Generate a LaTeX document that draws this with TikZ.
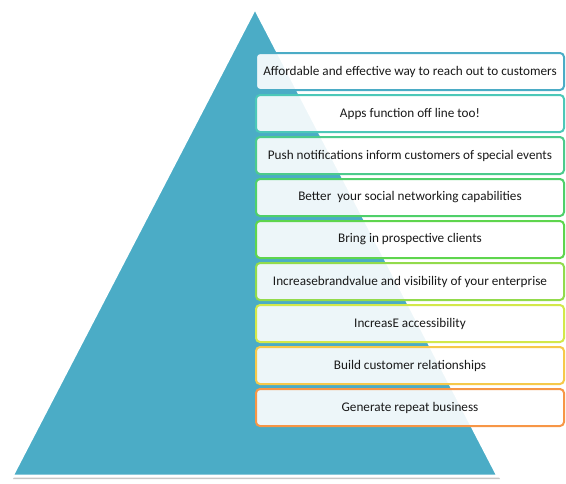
\documentclass[tikz,border=0pt]{standalone}
\usepackage{fontspec}
\setmainfont{Carlito}
\definecolor{teal1}{HTML}{4BACC6}
\definecolor{c1}{HTML}{4BACC6}
\definecolor{c2}{HTML}{4CC8B8}
\definecolor{c3}{HTML}{4CCB8C}
\definecolor{c4}{HTML}{4FD06A}
\definecolor{c5}{HTML}{5ED54D}
\definecolor{c6}{HTML}{92DB4C}
\definecolor{c7}{HTML}{D3E84A}
\definecolor{c8}{HTML}{F6C94A}
\definecolor{c9}{HTML}{F79646}
\begin{document}
\begin{tikzpicture}[x=1pt,y=-1pt,
  itembox/.style={draw=#1, line width=2pt, rounded corners=4pt, fill=white, fill opacity=0.9, text opacity=1,
    minimum width=308pt, minimum height=37pt, anchor=north west, inner sep=0pt,
    font=\fontsize{13.2}{15}\selectfont, text=black!90}]
\useasboundingbox (0,0) rectangle (566,483);
% shadow
\fill[gray!45] (256,10) -- (500,479) -- (13,479) -- cycle;
% triangle
\coordinate (apex) at (255,8);
\coordinate (bl) at (12,476);
\coordinate (br) at (498,476);
\draw[fill=teal1, draw=white, line width=3pt, line join=miter] (apex) -- (br) -- (bl) -- cycle;
% boxes
\node[itembox=c1] (b1) at (255,52)  {Affordable and effective way to reach out to customers};
\node[itembox=c2] (b2) at (255,94)  {Apps function off line too!};
\node[itembox=c3] (b3) at (255,136) {Push notifications inform customers of special events};
\node[itembox=c4] (b4) at (255,178) {Better\ \ your social networking capabilities};
\node[itembox=c5] (b5) at (255,220) {Bring in prospective clients};
\node[itembox=c6] (b6) at (255,262) {Increasebrandvalue and visibility of your enterprise};
\node[itembox=c7] (b7) at (255,304) {IncreasE accessibility};
\node[itembox=c8] (b8) at (255,346) {Build customer relationships};
\node[itembox=c9] (b9) at (255,388) {Generate repeat business};
\end{tikzpicture}
\end{document}
